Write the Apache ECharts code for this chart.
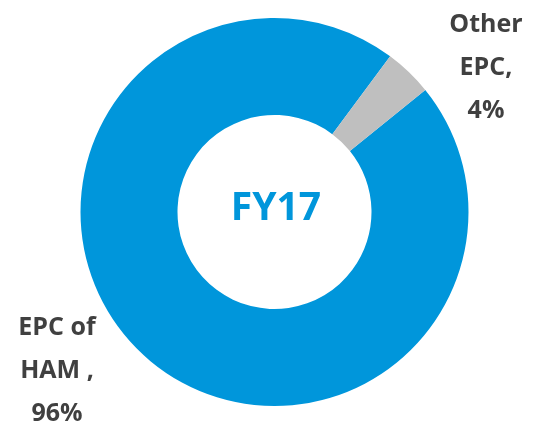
<!DOCTYPE html>
<html>
<head>
<meta charset="utf-8">
<script src="https://cdn.jsdelivr.net/npm/echarts@6/dist/echarts.min.js"></script>
<style>
html, body { margin: 0; padding: 0; background: #fff; }
#main { width: 534px; height: 426px; }
</style>
</head>
<body>
<div id="main"></div>
<script>
// 数据
var categories = ['EPC of\nHAM ', 'Other\nEPC'];
var values = [96, 4];
var colors = ['#0096DB', '#BFBFBF'];
var centerText = 'FY17';

var pie_data = [];
for (var i in categories) {
    pie_data.push({
        name: categories[i],
        value: values[i],
        itemStyle: { color: colors[i] }
    });
}

// 标签位置
var label_pos = [
    { x: 57, y: 371 },
    { x: 486, y: 68 }
];

var chart = echarts.init(document.getElementById('main'));
var option = {
    animation: false,
    graphic: [
        {
            type: 'text',
            x: 276,
            y: 209,
            style: {
                text: centerText,
                align: 'center',
                verticalAlign: 'middle',
                fill: '#0096DB',
                fontSize: 39,
                fontWeight: 'bold',
                fontFamily: 'Open Sans'
            },
            z: 10
        }
    ],
    series: [
        {
            type: 'pie',
            center: [274.5, 212],
            radius: [97, 194],
            startAngle: 39,
            clockwise: true,
            label: {
                show: true,
                position: 'outside',
                formatter: '{b},\n{d}%',
                color: '#404040',
                fontSize: 25,
                fontWeight: 'bold',
                fontFamily: 'Open Sans',
                lineHeight: 43,
                align: 'center',
                overflow: 'none'
            },
            labelLine: { show: false },
            labelLayout: function (params) {
                var p = label_pos[params.dataIndex];
                return {
                    x: p.x,
                    y: p.y,
                    align: 'center',
                    verticalAlign: 'middle'
                };
            },
            emphasis: { disabled: true },
            data: pie_data
        }
    ]
};
chart.setOption(option);
</script>
</body>
</html>
